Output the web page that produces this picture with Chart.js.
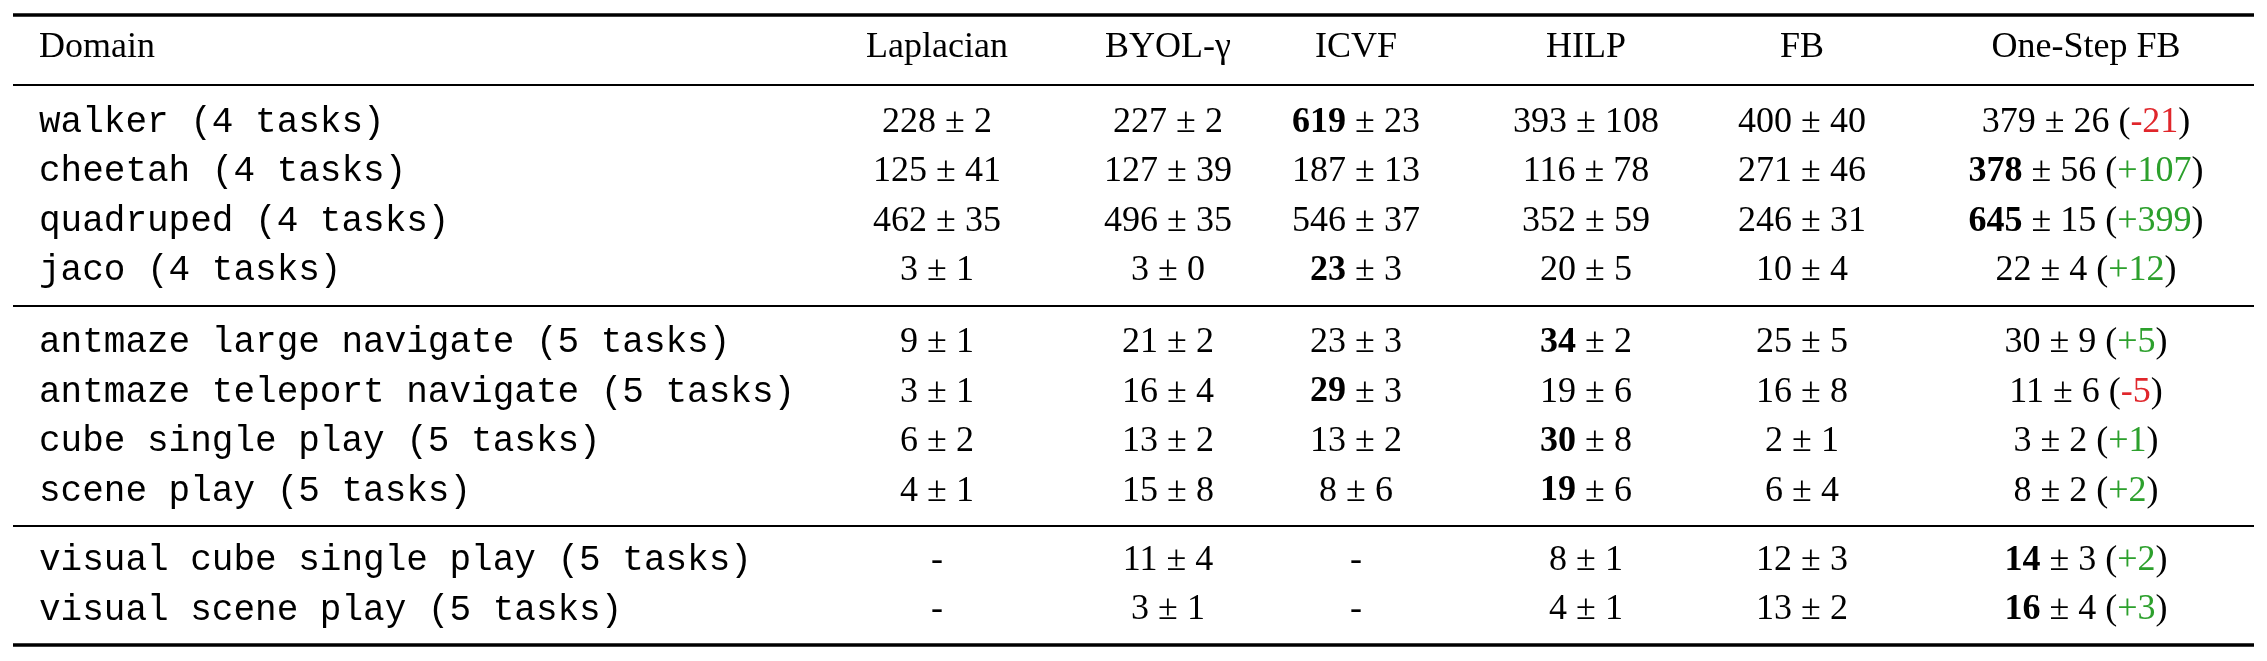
<!DOCTYPE html>
<html>
<head>
<meta charset="utf-8">
<script src="https://cdn.jsdelivr.net/npm/chart.js@4"></script>
<style>
  html, body { margin: 0; padding: 0; background: #fff; }
  #wrap { width: 2267px; height: 661px; }
</style>
</head>
<body>
<div id="wrap"><canvas id="tabela"></canvas></div>
<script>
// Dados da tabela
const methods = ["Laplacian", "BYOL-\u03b3", "ICVF", "HILP", "FB", "One-Step FB"];
const domains = [
  "walker (4 tasks)", "cheetah (4 tasks)", "quadruped (4 tasks)", "jaco (4 tasks)",
  "antmaze large navigate (5 tasks)", "antmaze teleport navigate (5 tasks)",
  "cube single play (5 tasks)", "scene play (5 tasks)",
  "visual cube single play (5 tasks)", "visual scene play (5 tasks)"
];
// null = "-"
const laplacianMean = [228, 125, 462, 3, 9, 3, 6, 4, null, null];
const laplacianStd  = [2, 41, 35, 1, 1, 1, 2, 1, null, null];
const byolMean = [227, 127, 496, 3, 21, 16, 13, 15, 11, 3];
const byolStd  = [2, 39, 35, 0, 2, 4, 2, 8, 4, 1];
const icvfMean = [619, 187, 546, 23, 23, 29, 13, 8, null, null];
const icvfStd  = [23, 13, 37, 3, 3, 3, 2, 6, null, null];
const hilpMean = [393, 116, 352, 20, 34, 19, 30, 19, 8, 4];
const hilpStd  = [108, 78, 59, 5, 2, 6, 8, 6, 1, 1];
const fbMean = [400, 271, 246, 10, 25, 16, 2, 6, 12, 13];
const fbStd  = [40, 46, 31, 4, 5, 8, 1, 4, 3, 2];
const oneStepMean = [379, 378, 645, 22, 30, 11, 3, 8, 14, 16];
const oneStepStd  = [26, 56, 15, 4, 9, 6, 2, 2, 3, 4];
const oneStepDelta = ["-21", "+107", "+399", "+12", "+5", "-5", "+1", "+2", "+2", "+3"];
// melhor resultado de cada linha (indice do metodo)
const bestIdx = [2, 5, 5, 2, 3, 2, 3, 3, 5, 5];

// Layout (posicoes nas escalas)
const colPos = [0.39, 9.37, 11.68, 13.56, 15.86, 18.02, 20.86];
const rowPos = [1.5, 2.5, 3.5, 4.5, 5.95, 6.95, 7.95, 8.95, 10.35, 11.35];
const headerPos = 0;
const rulePos = [-0.67, 0.75, 5.22, 9.65, 12.06];

const means = [laplacianMean, byolMean, icvfMean, hilpMean, fbMean, oneStepMean];
const stds = [laplacianStd, byolStd, icvfStd, hilpStd, fbStd, oneStepStd];

const serif = '"Liberation Serif", "DejaVu Serif", serif';
const mono = '"Liberation Mono", "DejaVu Sans Mono", monospace';
const FS = 36;

function desenharCelula(ctx, cx, cy, parts) {
  let total = 0;
  parts.forEach((p) => { ctx.font = p.font; p.w = ctx.measureText(p.text).width; total += p.w; });
  let x = cx - total / 2;
  parts.forEach((p) => {
    ctx.font = p.font;
    ctx.fillStyle = p.color || "#000";
    ctx.fillText(p.text, x, cy);
    x += p.w;
  });
}

const tablePlugin = {
  id: "tablePlugin",
  afterDraw(chart) {
    const ctx = chart.ctx;
    const xs = chart.scales.x;
    const ys = chart.scales.y;
    ctx.save();
    ctx.textBaseline = "middle";
    // linhas horizontais
    rulePos.forEach((r, i) => {
      ctx.beginPath();
      ctx.lineWidth = i === 0 || i === rulePos.length - 1 ? 3.5 : 2;
      ctx.strokeStyle = "#000";
      const y = Math.round(ys.getPixelForValue(r));
      ctx.moveTo(xs.getPixelForValue(0.13), y);
      ctx.lineTo(xs.getPixelForValue(22.54), y);
      ctx.stroke();
    });
    // cabecalho
    const hy = ys.getPixelForValue(headerPos);
    ctx.font = FS + "px " + serif;
    ctx.fillStyle = "#000";
    ctx.textAlign = "left";
    ctx.fillText("Domain", xs.getPixelForValue(colPos[0]), hy);
    ctx.textAlign = "center";
    methods.forEach((m, j) => ctx.fillText(m, xs.getPixelForValue(colPos[j + 1]), hy));
    // linhas
    domains.forEach((d, i) => {
      const y = ys.getPixelForValue(rowPos[i]);
      ctx.textAlign = "left";
      ctx.font = FS + "px " + mono;
      ctx.fillStyle = "#000";
      ctx.fillText(d, xs.getPixelForValue(colPos[0]), y);
      ctx.textAlign = "left";
      methods.forEach((m, j) => {
        const cx = xs.getPixelForValue(colPos[j + 1]);
        const mean = means[j][i];
        if (mean === null) {
          desenharCelula(ctx, cx, y, [{ text: "-", font: FS + "px " + serif }]);
          return;
        }
        const bold = bestIdx[i] === j;
        const parts = [
          { text: String(mean), font: (bold ? "bold " : "") + FS + "px " + serif },
          { text: " \u00b1 " + stds[j][i], font: FS + "px " + serif },
        ];
        if (j === methods.length - 1) {
          const delta = oneStepDelta[i];
          parts.push({ text: " (", font: FS + "px " + serif });
          parts.push({ text: delta, font: FS + "px " + serif, color: delta[0] === "-" ? "#e0262b" : "#2ca02c" });
          parts.push({ text: ")", font: FS + "px " + serif });
        }
        desenharCelula(ctx, cx, y, parts);
      });
    });
    ctx.restore();
  },
};

new Chart(document.getElementById("tabela"), {
  type: "scatter",
  data: { datasets: [{ data: [], pointRadius: 0 }] },
  options: {
    responsive: true,
    maintainAspectRatio: false,
    animation: false,
    layout: { padding: 0 },
    plugins: { legend: { display: false }, tooltip: { enabled: false } },
    scales: {
      x: { type: "linear", min: 0, max: 22.67, display: false },
      y: { type: "linear", min: -0.97, max: 12.38, reverse: true, display: false },
    },
  },
  plugins: [tablePlugin],
});
</script>
</body>
</html>
